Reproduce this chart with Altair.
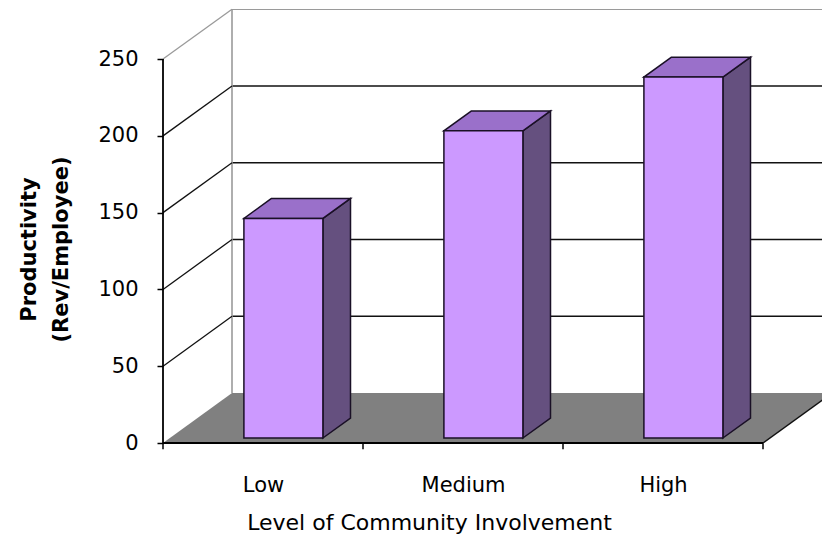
import json

import altair as alt
import pandas as pd

# ---- data -------------------------------------------------------------
categories = ["Low", "Medium", "High"]
productivity = [143, 200, 235]
y_ticks = [0, 50, 100, 150, 200, 250]

x_title = "Level of Community Involvement"
y_title = ["Productivity", "(Rev/Employee)"]

# ---- oblique 3-D projection (depth axis expressed in data units) ------
DEPTH_X = 0.345   # horizontal shift of the back wall, in category units
DEPTH_Y = 32.5    # vertical shift of the back wall, in value units
BAR_LEFT = 0.37   # bar start inside its category slot
BAR_WIDTH = 0.395
BAR_FRONT = 0.10  # depth fraction of the bar's front face
BAR_BACK = 0.50   # depth fraction of the bar's back face

X_MAX = 3.295
Y_MAX = 282.6

FONT = "DejaVu Sans"
FRONT = "#CC99FF"
TOP = "#9A70CA"
SIDE = "#65507F"
EDGE = "#1A1026"
FLOOR = "#808080"

n = len(categories)
y_top = max(y_ticks)

xs = alt.Scale(domain=[0, X_MAX], nice=False, zero=False)
ys = alt.Scale(domain=[0, Y_MAX], nice=False, zero=False)

label_expr = f"{json.dumps(categories)}[floor(datum.value)]"

# one axis definition per direction, shared by every layer so they merge
X_AX = alt.Axis(
    values=[i + 0.5 for i in range(n)], labelExpr=label_expr,
    ticks=False, domain=False, grid=False, labelFlush=False,
    labelFont=FONT, labelFontSize=21, labelColor="#000000",
    labelPadding=48, labelBaseline="alphabetic",
    title=x_title, titleFont=FONT, titleFontSize=22, titleFontWeight="normal",
    titleColor="#000000", titleX=266, titleY=86, titleAlign="center",
    titleBaseline="alphabetic",
)
Y_AX = alt.Axis(
    values=y_ticks, domain=False, grid=False,
    ticks=True, tickSize=6, tickWidth=1.5, tickColor="#000000",
    labelFont=FONT, labelFontSize=21, labelColor="#000000",
    labelPadding=19, labelBaseline="middle", labelFlush=False,
    title=y_title, titleFont=FONT, titleFontSize=21, titleFontWeight="bold",
    titleColor="#000000", titleAngle=270, titleAlign="center",
    titleBaseline="middle", titleX=-134, titleY=240, titleLineHeight=32,
)


def X(field):
    return alt.X(field, scale=xs, axis=X_AX)


def Y(field):
    return alt.Y(field, scale=ys, axis=Y_AX)


# ---- geometry tables derived from the values --------------------------
bars = pd.DataFrame({"level": categories, "v": productivity, "i": range(n)})
bars["x"] = bars["i"] + BAR_LEFT + BAR_FRONT * DEPTH_X
bars["x2"] = bars["x"] + BAR_WIDTH
bars["y"] = BAR_FRONT * DEPTH_Y
bars["y2"] = bars["v"] + BAR_FRONT * DEPTH_Y

ddx = (BAR_BACK - BAR_FRONT) * DEPTH_X
ddy = (BAR_BACK - BAR_FRONT) * DEPTH_Y

side_rows, top_rows = [], []
for rec in bars.to_dict("records"):
    lv, x1, x2, y1, y2 = rec["level"], rec["x"], rec["x2"], rec["y"], rec["y2"]
    side_rows.append({"level": lv, "x": x2, "y": y1, "y2": y2})
    side_rows.append({"level": lv, "x": x2 + ddx, "y": y1 + ddy, "y2": y2 + ddy})
    top_rows.append({"level": lv, "y": y2, "x": x1, "x2": x2})
    top_rows.append({"level": lv, "y": y2 + ddy, "x": x1 + ddx, "x2": x2 + ddx})
side = pd.DataFrame(side_rows)
top = pd.DataFrame(top_rows)

floor = pd.DataFrame({"y": [0, DEPTH_Y], "x": [0, DEPTH_X], "x2": [n, n + DEPTH_X]})

levels = pd.DataFrame({"v": y_ticks[1:]})
levels["yb"] = levels["v"] + DEPTH_Y
levels["x0"] = 0.0
levels["xb"] = DEPTH_X
levels["xe"] = n + DEPTH_X

bounds = pd.DataFrame({"b": list(range(n + 1))})
bounds["y0"] = 0.0
bounds["y1"] = -4.0

line_col = alt.condition(alt.datum.v == y_top, alt.value("#9a9a9a"), alt.value("#111111"))

# ---- layers -----------------------------------------------------------
floor_layer = alt.Chart(floor).mark_area(orient="horizontal", color=FLOOR, clip=True).encode(
    y=Y("y:Q"), x=X("x:Q"), x2="x2:Q",
)

floor_edge = alt.Chart(pd.DataFrame({"x": [n], "x2": [n + DEPTH_X], "y": [0], "y2": [DEPTH_Y]})).mark_rule(
    color="#111111", strokeWidth=1.5, clip=True
).encode(x=X("x:Q"), x2="x2:Q", y=Y("y:Q"), y2="y2:Q")

back_grid = alt.Chart(levels).mark_rule(strokeWidth=1.6, clip=True).encode(
    x=X("xb:Q"), x2="xe:Q", y=Y("yb:Q"), color=line_col,
)

back_edge = alt.Chart(pd.DataFrame({"x": [DEPTH_X], "y": [DEPTH_Y], "y2": [y_top + DEPTH_Y]})).mark_rule(
    color="#9a9a9a", strokeWidth=1.6
).encode(x=X("x:Q"), y=Y("y:Q"), y2="y2:Q")

side_wall = alt.Chart(levels).mark_rule(strokeWidth=1.3).encode(
    x=X("x0:Q"), x2="xb:Q", y=Y("v:Q"), y2="yb:Q", color=line_col,
)

bar_side = alt.Chart(side).mark_area(
    orient="vertical", color=SIDE, stroke=EDGE, strokeWidth=1.5, strokeJoin="miter"
).encode(x=X("x:Q"), y=Y("y:Q"), y2="y2:Q", detail="level:N")

bar_top = alt.Chart(top).mark_area(
    orient="horizontal", color=TOP, stroke=EDGE, strokeWidth=1.5, strokeJoin="miter"
).encode(y=Y("y:Q"), x=X("x:Q"), x2="x2:Q", detail="level:N")

bar_front = alt.Chart(bars).mark_rect(color=FRONT, stroke=EDGE, strokeWidth=1.5).encode(
    x=X("x:Q"), x2="x2:Q", y=Y("y:Q"), y2="y2:Q",
)

x_ticks = alt.Chart(bounds).mark_rule(color="#000000", strokeWidth=1.5).encode(
    x=X("b:Q"), y=Y("y0:Q"), y2="y1:Q",
)

x_axis_line = alt.Chart(pd.DataFrame({"x": [0], "x2": [n], "y": [0]})).mark_rule(
    color="#000000", strokeWidth=1.8
).encode(x=X("x:Q"), x2="x2:Q", y=Y("y:Q"))

y_axis_line = alt.Chart(pd.DataFrame({"x": [0], "y": [0], "y2": [y_top]})).mark_rule(
    color="#000000", strokeWidth=1.8
).encode(x=X("x:Q"), y=Y("y:Q"), y2="y2:Q")

chart = (
    alt.layer(
        floor_layer, back_grid, back_edge, side_wall, floor_edge,
        bar_side, bar_top, bar_front,
        x_ticks, x_axis_line, y_axis_line,
    )
    .properties(
        width=659, height=434,
        autosize=alt.AutoSizeParams(type="none"),
        padding={"left": 163, "top": 9, "right": 0, "bottom": 91},
        background="#ffffff",
    )
    .configure_view(stroke=None)
)

chart.save("out.html", embed_options={"renderer": "svg", "actions": False})
